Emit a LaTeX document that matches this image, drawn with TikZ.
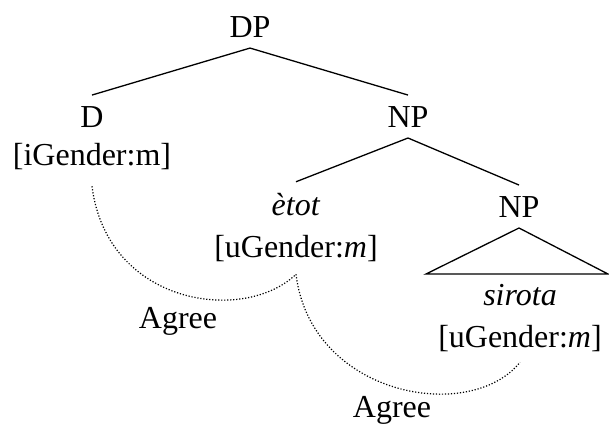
\documentclass[tikz,border=0pt]{standalone}
\usepackage{fontspec}
\setmainfont{Liberation Serif}

\begin{document}
\begin{tikzpicture}[
  x=0.5pt, y=-0.5pt,
  lbl/.style={font=\fontsize{16}{19}\selectfont, inner sep=0pt, outer sep=5.5pt, anchor=base},
  branch/.style={line width=0.65pt},
  agree/.style={line width=0.6pt, dash pattern=on 0.6pt off 0.9pt}
]
\useasboundingbox (0,0) rectangle (609,423);

% tree labels
\node[lbl] (dp) at (250,37) {DP};
\node[lbl] (d) at (92,127) {D};
\node[lbl] (dF) at (92,165) {[iGender:m]};
\node[lbl] (np) at (408,127) {NP};
\node[lbl] (etot) at (296,215) {\textit{ètot}};
\node[lbl] (etotF) at (296,257) {[uGender:\textit{m}]};
\node[lbl] (np2) at (519,217) {NP};
\node[lbl] (sirota) at (520,305) {\textit{sirota}};
\node[lbl] (sirotaF) at (520,347) {[uGender:\textit{m}]};
\node[lbl] (agr1) at (178,328) {Agree};
\node[lbl] (agr2) at (392,417) {Agree};

% branches
\draw[branch] (d.north) -- (dp.south) -- (np.north);
\draw[branch] (etot.north) -- (np.south) -- (np2.north);
\draw[branch] (np2.south) -- ++(-93,46) -- ++(182,0) -- cycle;

% agree arcs
\draw[agree] ([yshift=-3pt]dF.south) .. controls +(15,119) and +(-52,50) .. ([yshift=-1pt]etotF.south);
\draw[agree] ([yshift=-1pt]etotF.south) .. controls +(15,122) and +(-50,62) .. (sirotaF.south);
\end{tikzpicture}
\end{document}
